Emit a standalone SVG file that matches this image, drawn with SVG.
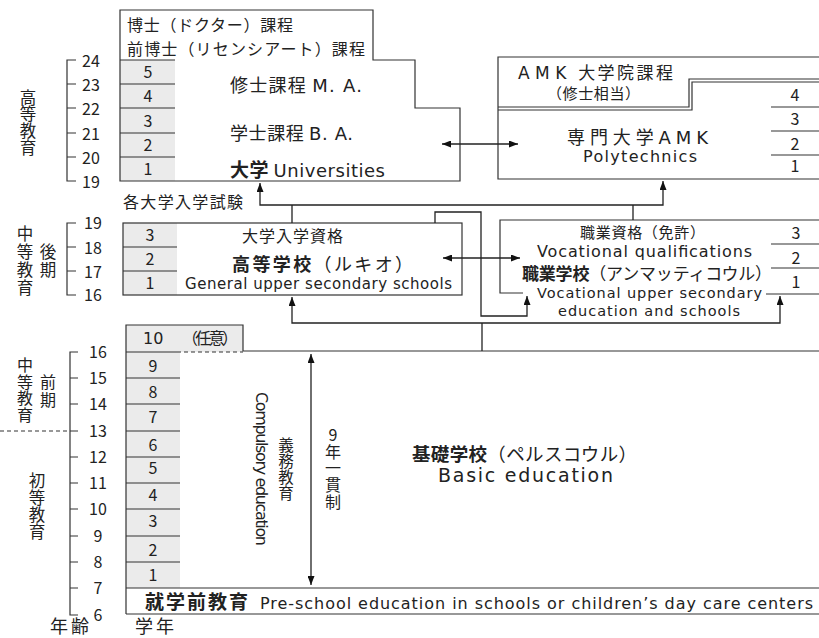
<svg xmlns="http://www.w3.org/2000/svg" width="819" height="638" viewBox="0 0 819 638">
<defs>
<marker id="ah" viewBox="0 0 9 7" refX="9" refY="3.5" markerWidth="9" markerHeight="7" markerUnits="userSpaceOnUse" orient="auto-start-reverse">
<path d="M0,0 L9,3.5 L0,7 z" fill="#111"/>
</marker>
</defs>
<style>
.ln{fill:none;stroke:#333;stroke-width:1.2}
.cn{fill:none;stroke:#222;stroke-width:1.3}
.gr{fill:#ebebeb;stroke:none}
text{font-family:"Noto Sans CJK JP","DejaVu Sans",sans-serif;fill:#222}
.en{font-family:"DejaVu Sans","Noto Sans CJK JP",sans-serif}
.jp{font-size:16px}
.num{font-family:"DejaVu Sans",sans-serif;font-size:16px;text-anchor:middle}
.age{font-family:"DejaVu Sans",sans-serif;font-size:16px;text-anchor:middle}
.v{font-size:16px;writing-mode:vertical-rl;text-orientation:upright}
.b{font-weight:bold}
</style>
<rect width="819" height="638" fill="#fff"/>

<g id="age-axis">
<path class="ln" d="M76,60 H67 V181 H76 M67,84 H76 M67,108 H76 M67,133 H76 M67,157 H76"/>
<path class="ln" d="M76,223 H67 V295 H76 M67,247 H76 M67,271 H76"/>
<path class="ln" d="M78,352 H70 V615 H78 M70,378 H78 M70,404 H78 M70,431 H78 M70,457 H78 M70,483 H78 M70,509 H78 M70,536 H78 M70,562 H78 M70,588 H78"/>
<path class="ln" d="M0,431 H67" stroke-dasharray="4,3"/>
<g class="age">
<text x="91" y="67">24</text><text x="91" y="91">23</text><text x="91" y="115">22</text><text x="91" y="140">21</text><text x="91" y="164">20</text><text x="91" y="188">19</text>
<text x="93" y="229">19</text><text x="93" y="254">18</text><text x="93" y="278">17</text><text x="93" y="301">16</text>
<text x="98" y="358">16</text><text x="98" y="384">15</text><text x="98" y="410">14</text><text x="98" y="437">13</text><text x="98" y="463">12</text><text x="98" y="489">11</text><text x="98" y="515">10</text><text x="98" y="542">9</text><text x="98" y="568">8</text><text x="98" y="594">7</text><text x="98" y="621">6</text>
</g>
<text class="v" x="28" y="89" style="font-size:16.5px;letter-spacing:0.2px">高等教育</text>
<text class="v" x="25" y="225" style="font-size:16.5px;letter-spacing:1.5px">中等教育</text>
<text class="v" x="48" y="243" style="font-size:16.5px;letter-spacing:1.5px">後期</text>
<text class="v" x="25" y="357" style="letter-spacing:0.7px">中等教育</text>
<text class="v" x="48" y="374" style="letter-spacing:2px">前期</text>
<text class="v" x="37" y="472" style="font-size:16.5px;letter-spacing:0.8px">初等教育</text>
<text x="50" y="633" style="font-size:18px;letter-spacing:3px">年齢</text>
<text x="135" y="633" style="font-size:18px;letter-spacing:3px">学年</text>
</g>

<g id="university">
<rect class="gr" x="120" y="60" width="55" height="121"/>
<path class="ln" d="M120,10 H373 V60 H415 V108 H460 V181 H120 Z"/>
<path class="ln" d="M120,60 H175 M120,84 H175 M120,108 H175 M120,133 H175 M120,157 H175"/>
<text class="jp" x="127" y="31" textLength="166">博士（ドクター）課程</text>
<text class="jp" x="127" y="55" textLength="238">前博士（リセンシアート）課程</text>
<g class="num"><text x="148" y="78">5</text><text x="148" y="102">4</text><text x="148" y="127">3</text><text x="148" y="151">2</text><text x="148" y="175">1</text></g>
<text x="230" y="92" style="font-size:18px" textLength="132">修士課程 <tspan class="en">M. A.</tspan></text>
<text x="230" y="140" style="font-size:18px" textLength="123">学士課程 <tspan class="en">B. A.</tspan></text>
<text x="230" y="177" style="font-size:18px" textLength="155"><tspan class="b" style="font-size:19px">大学</tspan> <tspan class="en">Universities</tspan></text>
</g>

<g id="polytechnics">
<path class="ln" d="M819,57 H498 V179 H819"/>
<path class="ln" d="M498,107 H689 V79 H819 M498,110 H692 V82 H819"/>
<path class="ln" d="M771,107 H819 M771,131 H819 M771,155 H819"/>
<text x="518" y="79" style="font-size:17px" textLength="155"><tspan class="en" letter-spacing="3">AMK</tspan> 大学院課程</text>
<text x="547" y="99" style="font-size:15px" textLength="93">（修士相当）</text>
<text x="567" y="144" style="font-size:18px" textLength="141">専門大学<tspan class="en">AMK</tspan></text>
<text class="en" x="583" y="162" style="font-size:16px" textLength="114">Polytechnics</text>
<g class="num"><text x="795" y="101">4</text><text x="795" y="125">3</text><text x="795" y="150">2</text><text x="795" y="172">1</text></g>
</g>

<g id="upper-secondary">
<rect class="gr" x="123" y="223" width="54" height="72"/>
<rect class="ln" x="123" y="223" width="339" height="72"/>
<path class="ln" d="M123,247 H177 M123,271 H177"/>
<g class="num"><text x="150" y="241">3</text><text x="150" y="265">2</text><text x="150" y="289">1</text></g>
<text class="jp" x="242" y="242" textLength="101">大学入学資格</text>
<text x="232" y="271" style="font-size:18px" textLength="181"><tspan class="b">高等学校</tspan>（ルキオ）</text>
<text class="en" x="185" y="289" style="font-size:15px" textLength="267">General upper secondary schools</text>
</g>

<g id="vocational">
<path class="ln" d="M819,220 H500 V293 H523 M766,294 H819"/>
<path class="ln" d="M771,244 H819 M771,268 H819"/>
<g class="num"><text x="796" y="239">3</text><text x="796" y="264">2</text><text x="796" y="288">1</text></g>
<text x="580" y="238" style="font-size:15px" textLength="125">職業資格（免許）</text>
<text class="en" x="537" y="257" style="font-size:16px" textLength="215">Vocational qualifications</text>
<text x="522" y="280" style="font-size:17px" textLength="250"><tspan class="b">職業学校</tspan>（アンマッティコウル）</text>
<text class="en" x="537" y="298" style="font-size:14.5px" textLength="225">Vocational upper secondary</text>
<text class="en" x="558" y="316" style="font-size:14.5px" textLength="182">education and schools</text>
</g>

<g id="basic">
<rect class="gr" x="126" y="325" width="117" height="27"/>
<rect class="gr" x="126" y="352" width="54" height="236"/>
<path class="ln" d="M126,614 V325 H243 V351 H819"/>
<path class="ln" d="M177,352 H243" stroke-dasharray="4,3"/>
<path class="ln" d="M126,352 H177 M126,378 H180 M126,404 H180 M126,431 H180 M126,457 H180 M126,483 H180 M126,509 H180 M126,536 H180 M126,562 H180"/>
<text class="en" x="143" y="344" style="font-size:16px">10</text>
<text class="jp" x="182" y="344" textLength="56">（任意）</text>
<g class="num"><text x="153" y="372">9</text><text x="153" y="398">8</text><text x="153" y="423">7</text><text x="153" y="451">6</text><text x="153" y="474">5</text><text x="153" y="501">4</text><text x="153" y="527">3</text><text x="153" y="556">2</text><text x="153" y="581">1</text></g>
<text class="en" transform="translate(256,392) rotate(90)" style="font-size:16px" textLength="154">Compulsory education</text>
<text class="v" x="286" y="437" style="font-size:15.5px;letter-spacing:0.5px">義務教育</text>
<text class="v" x="333" y="427" style="letter-spacing:0.7px">9年一貫制</text>
<text x="412" y="461" style="font-size:18.5px" textLength="225"><tspan class="b">基礎学校</tspan>（ペルスコウル）</text>
<text class="en" x="438" y="482" style="font-size:19px" textLength="175">Basic education</text>
</g>

<g id="preschool">
<path class="ln" d="M126,588 H819 M126,614 H819"/>
<text x="145" y="609" style="font-size:19px" class="b" textLength="103">就学前教育</text>
<text class="en" x="260" y="609" style="font-size:16px" textLength="553">Pre-school education in schools or children’s day care centers</text>
</g>

<text class="jp" x="123" y="208" textLength="120">各大学入学試験</text>

<g id="connectors">
<path class="cn" d="M442,144 H518" marker-start="url(#ah)" marker-end="url(#ah)"/>
<path class="cn" d="M260,183 V205 H663 V181" marker-start="url(#ah)" marker-end="url(#ah)"/>
<path class="cn" d="M292,205 V223 M633,205 V220"/>
<path class="cn" d="M443,258 H520" marker-start="url(#ah)" marker-end="url(#ah)"/>
<path class="cn" d="M435,223 V212 H481 V316 H527 V296" marker-end="url(#ah)"/>
<path class="cn" d="M292,297 V323 H780 V296" marker-start="url(#ah)" marker-end="url(#ah)"/>
<path class="cn" d="M482,323 V351"/>
<path class="cn" d="M311,354 V585" marker-start="url(#ah)" marker-end="url(#ah)"/>
</g>
</svg>
